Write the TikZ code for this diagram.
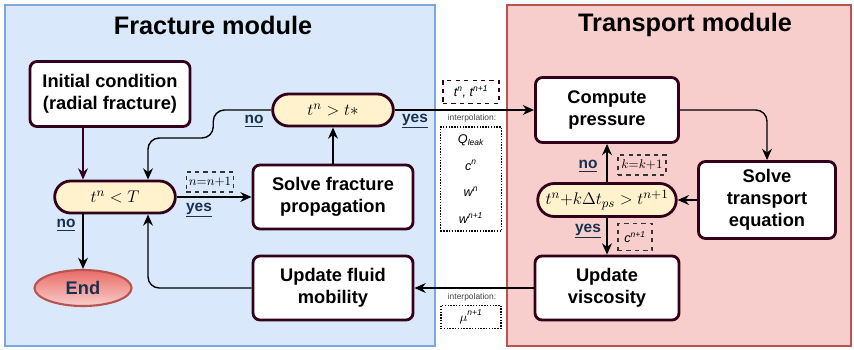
\documentclass[tikz,border=0pt]{standalone}
\usepackage{fontspec}
\setmainfont{Liberation Sans}
\usepackage{tikz}
\usetikzlibrary{shapes.misc, shapes.geometric, positioning, arrows.meta}

\definecolor{frame}{HTML}{33001A}
\definecolor{blueback}{HTML}{DAE8FC}
\definecolor{blueline}{HTML}{7EA6E0}
\definecolor{redback}{HTML}{F8CECC}
\definecolor{redline}{HTML}{B85450}
\definecolor{cond}{HTML}{FFF2CC}
\definecolor{endtop}{HTML}{EA6B66}
\definecolor{navy}{HTML}{163250}

\begin{document}
\begin{tikzpicture}[x=0.025cm, y=-0.025cm,
    every node/.style={font=\fontsize{13}{15.6}\selectfont\bfseries, align=center},
    procbox/.style={draw=frame, line width=2pt, rounded corners=5pt, fill=white,
                    minimum width=4cm, minimum height=1.6cm, inner sep=2pt},
    testpill/.style={draw=frame, line width=2pt, rounded rectangle, fill=cond,
                     minimum height=0.8cm, font=\fontsize{13}{15}\selectfont},
    arr/.style={-{Stealth[length=8pt, width=7pt]}, line width=1pt},
    answer/.style={font=\fontsize{11}{13}\selectfont\bfseries, text=navy},
    counter/.style={draw=black!80, dashed, line width=0.8pt, inner sep=1pt,
                    font=\fontsize{9}{10}\selectfont\mdseries},
    interp/.style={draw=black, densely dotted, line width=1pt, inner sep=1pt,
                   font=\fontsize{9}{19}\selectfont\mdseries\itshape},
    smalltext/.style={font=\fontsize{6}{7}\selectfont\mdseries, text=black!75}]

  \useasboundingbox (0,0) rectangle (854,349);

  % Module panels
  \draw[fill=blueback, draw=blueline, line width=1pt] (5,5) rectangle (435,346);
  \draw[fill=redback, draw=redline, line width=1pt] (507,5) rectangle (851,346);
  \node[font=\fontsize{18}{22}\selectfont\bfseries] (fractitle) at (213,25) {Fracture module};
  \node[font=\fontsize{18}{22}\selectfont\bfseries] (transtitle) at (685,25) {Transport module};

  % Fracture module
  \node[procbox, minimum height=1.625cm] (init) at (110,94) {Initial condition\\(radial fracture)};
  \node[testpill, minimum width=3.25cm] (tlt) at (115,197) {$t^n < T$};
  \node[ellipse, draw=redline, line width=1.5pt, top color=endtop, bottom color=redback,
        minimum width=2.425cm, minimum height=0.9cm, text=navy] (endnode) at (83,288) {End};
  \node[procbox] (solve) at (333,197) {Solve fracture\\propagation};
  \node[testpill, minimum width=3.25cm] (tstar) at (333,110) {$t^n > t{*}$};
  \node[procbox] (mobil) at (333,288) {Update fluid\\mobility};
  \coordinate (back) at (148,138);

  % Transport module
  \node[procbox, minimum width=3.575cm, minimum height=1.625cm] (press) at (607,110) {Compute\\pressure};
  \node[procbox, minimum width=3.425cm, minimum height=1.925cm] (transp) at (767,200) {Solve\\transport\\equation};
  \node[testpill, minimum width=3.425cm, minimum height=0.825cm] (kpill) at (607,200) {$t^n{+}k\Delta t_{ps} > t^{n+1}$};
  \node[procbox, minimum width=3.6cm] (visc) at (607,288) {Update\\viscosity};

  % Exchanged data
  \node[counter, draw=frame, minimum width=1.4cm, minimum height=0.575cm,
        font=\fontsize{9}{10}\selectfont\mdseries\itshape] (tstep) at (471,92)
        {t\textsuperscript{n}, t\textsuperscript{n+1}};
  \node[smalltext] (interp1) at (472,118) {interpolation:};
  \node[interp, minimum width=1.525cm, minimum height=2.6cm] (fields) at (471,179)
        {Q\textsubscript{leak}\\c\textsuperscript{n}\\w\textsuperscript{n}\\w\textsuperscript{n+1}};
  \node[smalltext] (interp2) at (472,297) {interpolation:};
  \node[interp, minimum width=1.5cm, minimum height=0.575cm] (visfield) at (471,317) {$\mu$\textsuperscript{n+1}};

  % Counters
  \node[counter, minimum width=1.175cm, minimum height=0.5cm] (ncount) at (210,182) {$n{=}n{+}1$};
  \node[counter, minimum width=1.2cm, minimum height=0.5cm] (kcount) at (642,165) {$k{=}k{+}1$};
  \node[counter, minimum width=0.85cm, minimum height=0.675cm, font=\fontsize{9}{10}\selectfont\mdseries\itshape] (cnew) at (635,237) {c\textsuperscript{n+1}};

  % Connectors, fracture side
  \draw[arr, draw=frame] (init.south -| endnode) -- (tlt.north -| endnode);
  \draw[arr] (tlt.south -| endnode) -- (endnode);
  \draw[arr] (tlt.east) -- (solve.west);
  \draw[arr] (solve.north) -- (tstar.south);
  \draw[arr, rounded corners=8pt] (tstar.west) -- ++(-58,0) |- (back) -- (tlt.north -| back);
  \draw[arr, rounded corners=8pt] (mobil.west) -| (tlt.south -| back);

  % Connectors, transport side
  \draw[arr] (tstar.east) -- (press.west);
  \draw[arr, rounded corners=8pt] (press.east) -| (transp.north);
  \draw[arr] (transp.west) -- (kpill.east);
  \draw[arr] (kpill.north) -- (press.south);
  \draw[arr] (kpill.south) -- (visc.north);
  \draw[arr] (visc.west) -- (mobil.east);

  % Branch labels
  \node[answer] (no1) at (254,121) {\underline{no}};
  \node[answer] (yes1) at (415,121) {\underline{yes}};
  \node[answer] (yes2) at (199,210) {\underline{yes}};
  \node[answer] (no2) at (66,225) {\underline{no}};
  \node[answer] (no3) at (588,166) {\underline{no}};
  \node[answer] (yes3) at (588,231) {\underline{yes}};
\end{tikzpicture}
\end{document}
